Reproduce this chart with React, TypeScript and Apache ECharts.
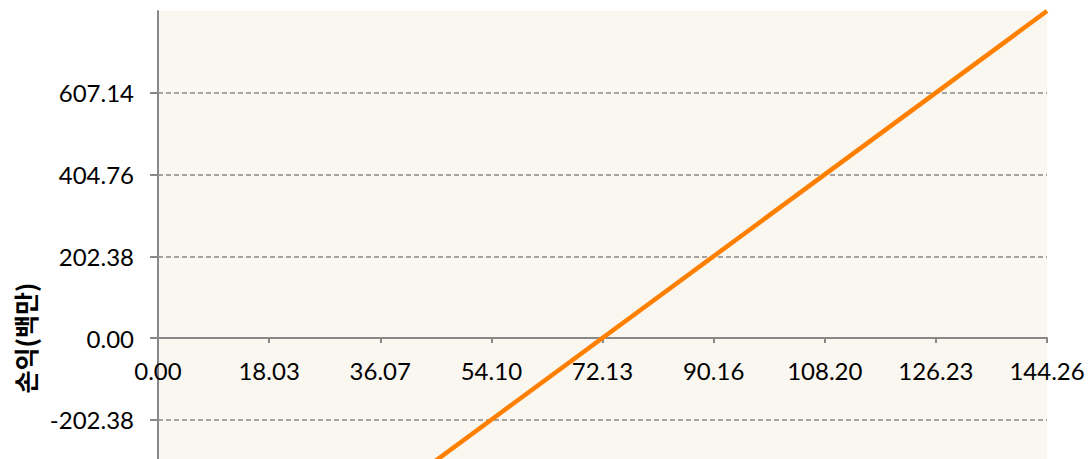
import React, { useEffect, useRef } from "react";
import * as echarts from "echarts";

const xTickLabels = ["0.00", "18.03", "36.07", "54.10", "72.13", "90.16", "108.20", "126.23", "144.26"];
const yTickLabels = ["-809.52", "-607.14", "-404.76", "-202.38", "0.00", "202.38", "404.76", "607.14", "809.52"];
const xStep = 18.0325;
const yStep = 202.38;
const xMax = 144.26;
const yMin = -809.52;
const yMax = 809.52;
const lineX = [0, 144.26];
const lineY = [-809.52, 809.52];
const yTitle = "손익(백만)";

export default function App() {
  const ref = useRef<HTMLDivElement>(null);
  useEffect(() => {
    if (!ref.current) return;
    const chart = echarts.init(ref.current, null, { renderer: "svg" });
    chart.setOption({
      animation: false,
      grid: {
        left: 158,
        top: 11,
        width: 889,
        height: 654,
        show: true,
        backgroundColor: "#FAF7F0",
        borderWidth: 0,
        containLabel: false,
        outerBoundsMode: "none",
      },
      xAxis: {
        type: "value",
        position: "bottom",
        offset: -327,
        min: 0,
        max: xMax,
        interval: xStep,
        axisLine: { show: true, onZero: false, lineStyle: { color: "#888888", width: 2 } },
        axisTick: { show: true, length: 5, lineStyle: { color: "#888888", width: 2 } },
        axisLabel: {
          color: "#000000",
          fontFamily: "Lato",
          fontSize: 24,
          margin: 20,
          showMaxLabel: true,
          formatter: (v: number) => xTickLabels[Math.round(v / xStep)] ?? "",
        },
        splitLine: { show: false },
      },
      yAxis: {
        type: "value",
        min: yMin,
        max: yMax,
        interval: yStep,
        name: yTitle,
        nameLocation: "middle",
        nameRotate: 90,
        nameGap: 121,
        nameTextStyle: {
          fontFamily: "Noto Sans CJK KR",
          fontWeight: "bold",
          fontSize: 25,
          color: "#000000",
        },
        axisLine: { show: true, lineStyle: { color: "#888888", width: 2 } },
        axisTick: { show: true, length: 8, lineStyle: { color: "#888888", width: 2 } },
        axisLabel: {
          color: "#000000",
          fontFamily: "Lato",
          fontSize: 24,
          margin: 24,
          showMaxLabel: false,
          formatter: (v: number) => yTickLabels[Math.round((v - yMin) / yStep)] ?? "",
        },
        splitLine: {
          show: true,
          showMaxLine: false,
          lineStyle: { color: "#888888", width: 1.5, type: [5, 3] },
        },
      },
      series: [
        {
          type: "line",
          data: lineX.map((x, i) => [x, lineY[i]]),
          showSymbol: false,
          symbol: "none",
          clip: false,
          lineStyle: { color: "#FF8000", width: 4.5 },
          itemStyle: { color: "#FF8000" },
        },
      ],
    });
    return () => chart.dispose();
  }, []);
  return (
    <div
      style={{ position: "absolute", left: 0, top: 0, width: 1088, height: 459, overflow: "hidden", background: "#ffffff" }}
    >
      <div ref={ref} style={{ width: 1088, height: 700 }} />
    </div>
  );
}
